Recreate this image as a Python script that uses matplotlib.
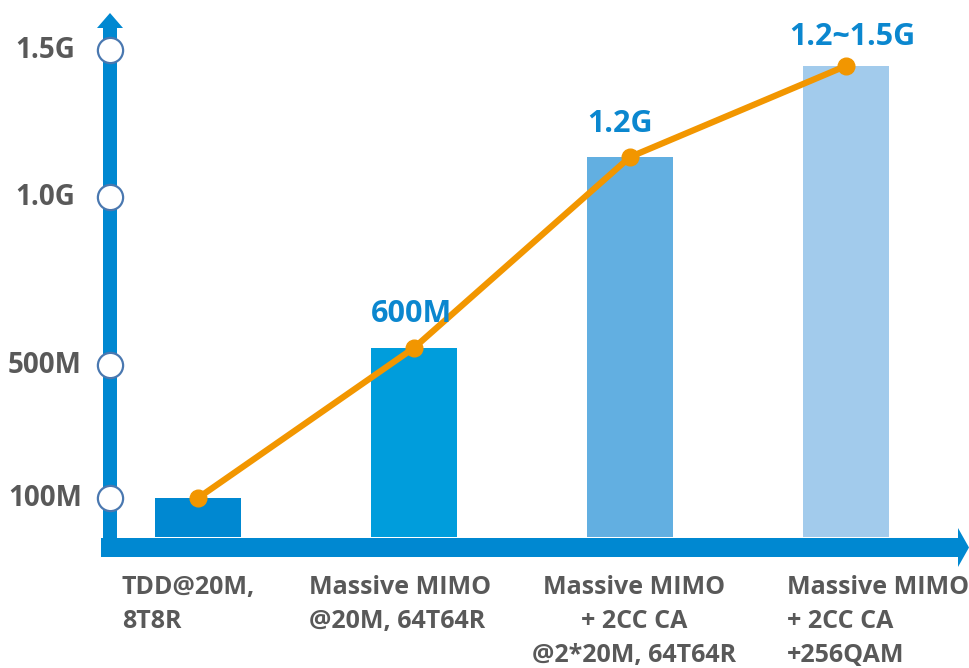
import matplotlib.pyplot as plt
from matplotlib.patches import Polygon
import numpy as np

# data
categories = [
    ['TDD@20M,', '8T8R'],
    ['Massive MIMO', '@20M, 64T64R'],
    ['Massive MIMO', '+ 2CC CA', '@2*20M, 64T64R'],
    ['Massive MIMO', '+ 2CC CA', '+256QAM'],
]
rates = [100, 551, 1136, 1446]          # bar heights on the chart's own (uneven) scale, Mbps
value_labels = [None, '600M', '1.2G', '1.2~1.5G']
tick_vals = [100, 500, 1000, 1500]
tick_labels = ['100M', '500M', '1.0G', '1.5G']

bar_colors = ['#0088d1', '#009ddc', '#62afe1', '#a2cbec']
axis_blue = '#0088d1'
orange = '#f29600'
gray = '#595959'
font = 'Open Sans'

# the chart's y axis is not linear: piecewise between the tick marks
knot_vals = np.array([-1000, 0, 100, 500, 1000, 1500, 3000])
knot_pos = np.array([-259, 131, 170, 303, 471, 618, 1059])


def fwd(v):
    return np.interp(v, knot_vals, knot_pos)


def inv(p):
    return np.interp(p, knot_pos, knot_vals)


W, H = 969, 668
fig = plt.figure(figsize=(W / 100, H / 100), dpi=100)

# background layer for the arrow-shaped axes, in pixel units
bg = fig.add_axes([0, 0, 1, 1], zorder=0)
bg.set_xlim(0, W)
bg.set_ylim(H, 0)
bg.axis('off')
yarrow = [(103, 538), (103, 28), (97, 28), (110, 13), (123, 28), (117, 28), (117, 538)]
xarrow = [(101, 538), (958, 538), (958, 528), (969, 547.5), (958, 567), (958, 557), (101, 557)]
bg.add_patch(Polygon(yarrow, closed=True, color=axis_blue, lw=0))
bg.add_patch(Polygon(xarrow, closed=True, color=axis_blue, lw=0))

ax = fig.add_axes([0, 0, 1, 1], zorder=1)
ax.patch.set_alpha(0)
ax.set_yscale('function', functions=(fwd, inv))
ax.set_ylim(inv(0), inv(H))
ax.set_xlim(-198 / 216, (W - 198) / 216)
ax.axis('off')

x = np.arange(len(rates))
ax.bar(x, rates, width=0.395, color=bar_colors, zorder=2)
ax.plot(x, rates, color=orange, lw=4.5, marker='o', ms=12, mec=orange, zorder=3,
        solid_capstyle='round')

# tick circles on the y axis
ytr = ax.get_yaxis_transform()
ax.scatter([110 / W] * len(tick_vals), tick_vals, s=330, facecolor='white',
           edgecolor='#4a78b0', linewidth=1.6, transform=ytr, zorder=4, clip_on=False)
for v, lab in zip(tick_vals, tick_labels):
    ax.text(45 / W, v, lab, transform=ytr, ha='center', va='center',
            fontsize=20, fontweight='bold', color=gray, family=font)

# value labels above the bars
offsets = [(0, 0), (-2, 26), (-10, 25), (6, 21)]
for xi, v, lab, off in zip(x, rates, value_labels, offsets):
    if lab:
        ax.annotate(lab, (xi, v), xytext=off, textcoords='offset pixels',
                    ha='center', va='baseline', fontsize=22, fontweight='bold',
                    color='#0b87cf', family=font)

# category labels under the x axis
lab_x = [122, 309, 634, 787]
lab_ha = ['left', 'left', 'center', 'left']
for lines, lx, ha in zip(categories, lab_x, lab_ha):
    for k, line in enumerate(lines):
        bg.text(lx, 594 + 34 * k, line, ha=ha, va='baseline', fontsize=18,
                fontweight='bold', color=gray, family=font)

fig.savefig('out.png', dpi=100)
